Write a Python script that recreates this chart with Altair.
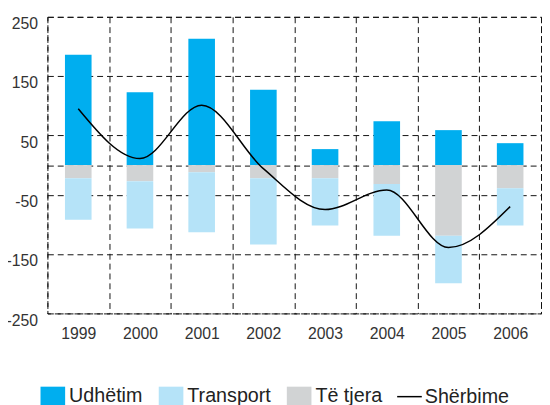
import altair as alt
import pandas as pd

years = ["1999", "2000", "2001", "2002", "2003", "2004", "2005", "2006"]
udhetim = [186, 123, 213, 127, 27, 74, 59, 37]
te_tjera = [-22, -27, -12, -22, -22, -32, -119, -39]
transport = [-70, -80, -101, -112, -80, -87, -80, -63]
sherbime = [95, 11, 101, -6, -75, -42, -139, -70]

series_names = ["Udhëtim", "Transport", "Të tjera"]
series_colors = ["#00AEEF", "#B5E3F8", "#D1D3D4"]
stack_order = {"Udhëtim": 0, "Të tjera": 1, "Transport": 2}

rows = []
for i, y in enumerate(years):
    for name, vals in (("Udhëtim", udhetim), ("Të tjera", te_tjera), ("Transport", transport)):
        rows.append({"year": y, "series": name, "value": vals[i], "ord": stack_order[name]})
bars_df = pd.DataFrame(rows)
line_df = pd.DataFrame({"year": years, "value": sherbime, "series": ["Shërbime"] * len(years)})

FONT = "Liberation Sans"

x_enc = alt.X(
    "year:O",
    title=None,
    scale=alt.Scale(paddingInner=0, paddingOuter=0),
    axis=alt.Axis(
        grid=True, tickBand="extent", gridColor="#111", gridDash=[6, 4], gridOpacity=1,
        domain=False, ticks=False, labelAngle=0, labelFontSize=16, labelColor="#333",
        labelFont=FONT, labelPadding=12, labelBaseline="top",
    ),
)
y_scale = alt.Scale(domain=[-250, 250], nice=False, zero=False)
y_axis = alt.Axis(
    values=[250, 150, 50, 0, -50, -150, -250],
    labelExpr="datum.value == 0 ? '' : '' + datum.value",
    grid=True, gridColor="#111", gridDash=[6, 4], gridOpacity=1,
    domain=False, ticks=False, labelFontSize=16, labelColor="#333", labelFont=FONT,
    labelPadding=10, labelOffset=7,
)

bars = alt.Chart(bars_df).mark_bar(size=27).encode(
    x=x_enc,
    y=alt.Y("value:Q", title=None, scale=y_scale, axis=y_axis, stack="zero"),
    color=alt.Color(
        "series:N",
        scale=alt.Scale(domain=series_names, range=series_colors),
        legend=alt.Legend(
            orient="none", legendX=-7, legendY=372, direction="horizontal", title=None,
            symbolType="M-1,-0.75H1V0.75H-1Z", symbolSize=625, symbolStrokeWidth=0,
            symbolOpacity=1,
            labelFontSize=20, labelFont=FONT, labelColor="#222", labelOffset=4,
            columnPadding=16,
        ),
    ),
    order=alt.Order("ord:Q"),
)

line = alt.Chart(line_df).mark_line(interpolate="monotone", strokeWidth=1.5).encode(
    x=alt.X("year:O"),
    y=alt.Y("value:Q", scale=y_scale),
    stroke=alt.Stroke(
        "series:N",
        scale=alt.Scale(domain=["Shërbime"], range=["#000000"]),
        legend=alt.Legend(
            orient="none", legendX=354, legendY=372, direction="horizontal", title=None,
            symbolType="stroke", symbolSize=625, symbolStrokeWidth=1.5,
            labelFontSize=20, labelFont=FONT, labelColor="#222", labelOffset=2,
        ),
    ),
)

chart = alt.layer(bars, line).resolve_scale(color="independent").properties(
    width=501, height=301,
    autosize=alt.AutoSizeParams(type="none"),
    padding={"left": 40, "top": 6, "right": 1, "bottom": 90},
).configure_view(stroke="#111", strokeDash=[6, 4], strokeWidth=1)

chart.save("out.html", embed_options={"renderer": "svg", "actions": False})
